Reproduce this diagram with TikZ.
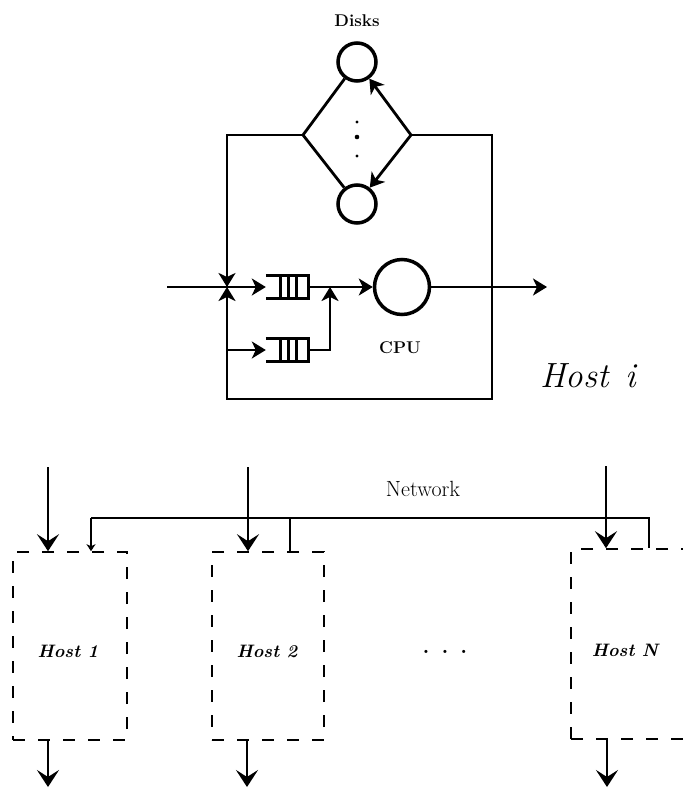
\documentclass[tikz,border=0pt]{standalone}
\usetikzlibrary{arrows.meta,calc}
\begin{document}
\begin{tikzpicture}[x=1pt,y=-1pt,
  th/.style={line width=2.8pt},
  bth/.style={line width=2.6pt},
  tipA/.tip={Stealth[length=14pt,width=17pt,inset=4pt]},
  btip/.tip={Stealth[length=17pt,width=22pt,inset=7pt]},
  stip/.tip={Stealth[length=7pt,width=9pt,inset=2pt]},
  srv/.style={circle,draw,line width=3.5pt,inner sep=0pt},
  qbox/.style={rectangle,inner sep=0pt,minimum width=42pt,minimum height=22pt},
  hostbox/.style={rectangle,draw,line width=1.6pt,dash pattern=on 12pt off 13pt,inner sep=0pt},
  lbl/.style={inner sep=0pt,font=\fontsize{17}{20}\selectfont\bfseries},
  hlbl/.style={inner sep=0pt,font=\fontsize{18}{21}\selectfont\bfseries\itshape}]
\useasboundingbox (0,0) rectangle (683,788);

% ---------- Host i ----------
\node[lbl] (disks) at (357,21) {Disks};
\node[srv,minimum size=38pt] (d1) at (357,62) {};
\node[srv,minimum size=38pt] (d2) at (357,204) {};
\coordinate (vl) at (303,135);
\coordinate (vr) at (411,135);
\fill (357,122) circle (1.6pt) (357,137) circle (2.3pt) (357,156) circle (1.6pt);
\draw[th] (vl) -- (d1);
\draw[th] (vl) -- (d2);
\draw[th,-tipA] (vr) -- (d1);
\draw[th,-tipA] (vr) -- (d2);

\coordinate (tl) at (227,135);
\coordinate (tr) at (492,135);
\coordinate (bl) at (227,399);
\coordinate (br) at (492,399);
\coordinate (jn) at (227,287);
\coordinate (jb) at (227,350);
\coordinate (in) at (167,287);
\coordinate (mg) at (330,287);
\coordinate (mgl) at (330,350);
\coordinate (out) at (547,287);

\node[qbox] (q1) at (287,287) {};
\node[qbox] (q2) at (287,350) {};
\foreach \q in {q1,q2}{
  \draw[th] (\q.north west) -- (\q.north east) -- (\q.south east) -- (\q.south west);
  \draw[th] ($(\q.north west)+(15,0)$) -- ($(\q.south west)+(15,0)$);
  \draw[th] ($(\q.north west)+(23,0)$) -- ($(\q.south west)+(23,0)$);
  \draw[th] ($(\q.north west)+(31,0)$) -- ($(\q.south west)+(31,0)$);
}
\node[srv,minimum size=55pt] (cpu) at (402,287) {};
\node[lbl] (cpulbl) at (400,348) {CPU};

\draw[th,-tipA] (vl) -- (tl) -- (jn);
\draw[th,-tipA] (vr) -- (tr) -- (br) -- (bl) -- (jn);
\draw[th] (in) -- (jn);
\draw[th,-tipA] (jn) -- (q1.west);
\draw[th,-tipA] (jb) -- (q2.west);
\draw[th,-tipA] (q1.east) -- (cpu);
\draw[th,-tipA] (q2.east) -- (mgl) -- (mg);
\draw[th,-tipA] (cpu) -- (out);

\node[anchor=base west,inner sep=0pt,font=\fontsize{35}{40}\selectfont\itshape] (hosti) at (540,387) {Host\hspace{17pt}i};

% ---------- Network ----------
\node[hostbox,minimum width=114pt,minimum height=188pt] (h1) at (70,646) {};
\node[hostbox,minimum width=112pt,minimum height=188pt] (h2) at (268,646) {};
\node[hostbox,minimum width=116pt,minimum height=190pt] (hN) at (629,644) {};
\node[hlbl] (h1l) at (68,651) {Host 1};
\node[hlbl] (h2l) at (267,651) {Host 2};
\node[hlbl] (hNl) at (625,650) {Host N};
\node[inner sep=0pt,font=\fontsize{22}{24}\selectfont\bfseries] (dots) at (445,652) {.\hspace{12pt}.\hspace{12pt}.};
\node[inner sep=0pt,font=\fontsize{22}{24}\selectfont] (net) at (423,489) {Network};

\coordinate (a1) at (48,467);
\coordinate (a2) at (248,467);
\coordinate (aN) at (606,466);
\coordinate (o1) at (48,787);
\coordinate (o2) at (247,787);
\coordinate (oN) at (607,787);
\coordinate (n1) at (91,518);
\coordinate (n2) at (290,518);
\coordinate (nN) at (649,518);

\draw[bth,-btip] (a1) -- (a1 |- h1.north);
\draw[bth,-btip] (a2) -- (a2 |- h2.north);
\draw[bth,-btip] (aN) -- (aN |- hN.north);
\draw[bth,-btip] (o1 |- h1.south) -- (o1);
\draw[bth,-btip] (o2 |- h2.south) -- (o2);
\draw[bth,-btip] (oN |- hN.south) -- (oN);

\draw[bth,-stip] (n1) -- (n1 |- h1.north);
\draw[bth] (n1) -- (nN) -- (nN |- hN.north);
\draw[bth] (n2) -- (n2 |- h2.north);
\end{tikzpicture}
\end{document}
